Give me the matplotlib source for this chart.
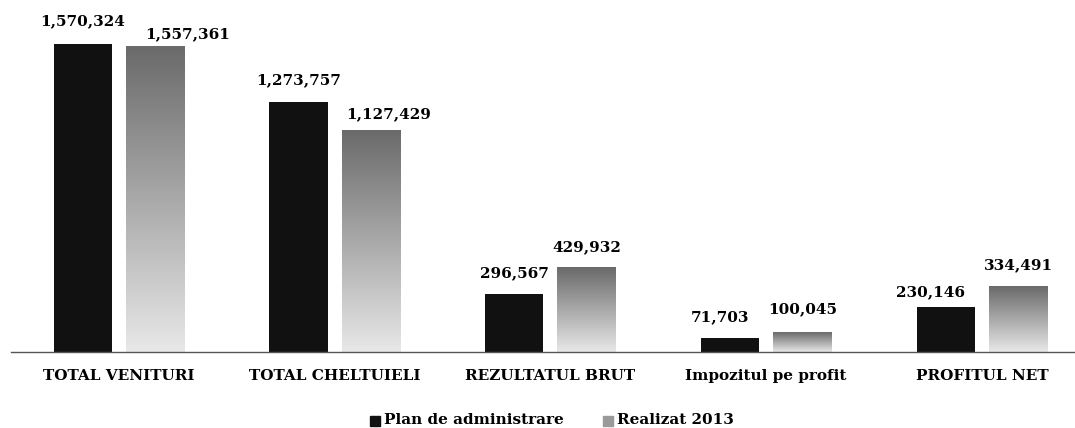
import numpy as np
import matplotlib
matplotlib.use('Agg')
import matplotlib.pyplot as plt
from matplotlib.colors import LinearSegmentedColormap
from matplotlib.patches import Rectangle

# data
categories = ['TOTAL VENITURI', 'TOTAL CHELTUIELI', 'REZULTATUL BRUT', 'Impozitul pe profit', 'PROFITUL NET']
plan = [1570324, 1273757, 296567, 71703, 230146]
realizat = [1557361, 1127429, 429932, 100045, 334491]
series_names = ['Plan de administrare', 'Realizat 2013']

# label nudges in pixels (dx, dy above bar top) - copied from the original layout
plan_nudge = [(0, 23), (0, 22), (0, 21), (-10, 21), (-15, 15)]
real_nudge = [(33, 12), (18, 17), (0, 20), (0, 23), (0, 21)]

font = dict(family='DejaVu Serif', weight='bold')
fs = 11

fig = plt.figure(figsize=(10.75, 4.28), dpi=100)
# axes in pixel coords: left 11, right 1075, bottom 352 (from top), top 44
W, H = 1075, 428
ax = fig.add_axes([11 / W, (H - 352) / H, 1064 / W, 308 / H])

x = np.arange(len(categories))
bw = 0.27
off = 0.1675

b1 = ax.bar(x - off, plan, bw, color='#111111', zorder=2)
b2 = ax.bar(x + off, realizat, bw, color='none', zorder=2)

# gradient fill for the second series
gray = LinearSegmentedColormap.from_list('g', ['#e8e8e8', '#6a6a6a'])
grad = np.linspace(0, 1, 256).reshape(-1, 1)
for r in b2:
    x0, y0 = r.get_x(), r.get_y()
    w, h = r.get_width(), r.get_height()
    ax.imshow(grad, cmap=gray, origin='lower', aspect='auto',
              extent=[x0, x0 + w, y0, y0 + h], zorder=2)

ax.set_xlim(-0.5, -0.5 + 1064 / 215.75)
ax.set_ylim(0, 1570324)

for i in range(len(categories)):
    ax.annotate(f'{plan[i]:,}', (x[i] - off, plan[i]), xytext=(plan_nudge[i][0] * 0.72, plan_nudge[i][1] * 0.72),
                textcoords='offset points', ha='center', va='center', fontsize=fs, **font)
    ax.annotate(f'{realizat[i]:,}', (x[i] + off, realizat[i]), xytext=(real_nudge[i][0] * 0.72, real_nudge[i][1] * 0.72),
                textcoords='offset points', ha='center', va='center', fontsize=fs, **font)

for s in ['top', 'right', 'left']:
    ax.spines[s].set_visible(False)
ax.spines['bottom'].set_color('#555555')
ax.spines['bottom'].set_linewidth(1)
ax.set_yticks([])
ax.set_xticks(x)
ax.set_xticklabels(categories, fontsize=fs, **font)
ax.tick_params(axis='x', length=0, pad=12)

# legend
fig.patches.append(Rectangle((370 / W, (H - 426) / H), 10 / W, 10 / H,
                             transform=fig.transFigure, color='#111111'))
fig.text(384 / W, (H - 420) / H, series_names[0], va='center', ha='left', fontsize=fs, **font)
fig.patches.append(Rectangle((603 / W, (H - 426) / H), 10 / W, 10 / H,
                             transform=fig.transFigure, color='#9a9a9a'))
fig.text(617 / W, (H - 420) / H, series_names[1], va='center', ha='left', fontsize=fs, **font)

fig.savefig('out.png', dpi=100, facecolor='white')
